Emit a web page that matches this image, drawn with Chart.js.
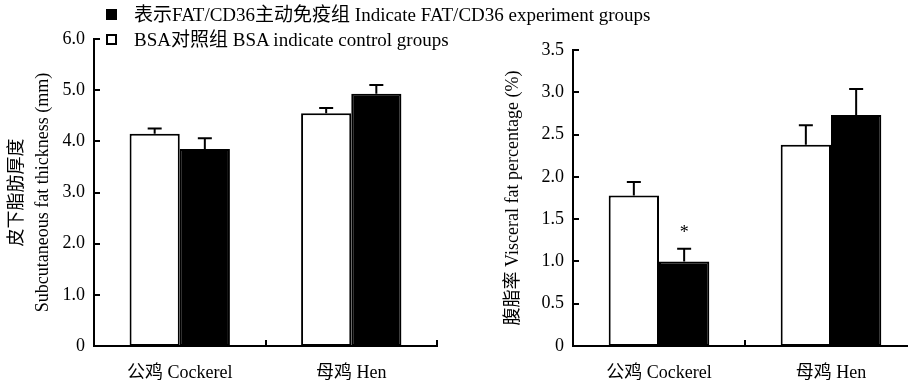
<!DOCTYPE html>
<html>
<head>
<meta charset="utf-8">
<script src="https://cdn.jsdelivr.net/npm/chart.js@4.4.0/dist/chart.umd.min.js"></script>
<style>
body { margin: 0; background: #fff; overflow: hidden; width: 908px; height: 385px; position: relative; font-family: "Liberation Serif", "Noto Sans CJK SC", serif; }
#left { position: absolute; left: 0; top: 0; }
#right { position: absolute; left: 460px; top: 0; }
.leg { position: absolute; left: 106px; font-size: 19px; line-height: 20px; white-space: nowrap; color: #000; }
.leg span.box { display: inline-block; width: 11px; height: 11px; box-sizing: border-box; border: 2px solid #000; margin-right: 17px; vertical-align: 1px; }
</style>
</head>
<body>
<canvas id="left" width="460" height="385"></canvas>
<canvas id="right" width="470" height="385"></canvas>
<div class="leg" style="top:5px"><span class="box" style="background:#000"></span>表示FAT/CD36主动免疫组 Indicate FAT/CD36 experiment groups</div>
<div class="leg" style="top:30px"><span class="box" style="background:#fff"></span>BSA对照组 BSA indicate control groups</div>
<script>
// categories and series
var groups = ['公鸡 Cockerel', '母鸡 Hen'];
var seriesNames = ['BSA对照组 BSA indicate control groups', '表示FAT/CD36主动免疫组 Indicate FAT/CD36 experiment groups'];

// subcutaneous fat thickness (mm)
var subBSA = [4.15, 4.55];
var subBSAerr = [0.10, 0.10];
var subFAT = [3.85, 4.93];
var subFATerr = [0.21, 0.17];
var subTicks = ['0', '1.0', '2.0', '3.0', '4.0', '5.0', '6.0'];

// visceral fat percentage (%)
var visBSA = [1.78, 2.38];
var visBSAerr = [0.16, 0.23];
var visFAT = [1.00, 2.73];
var visFATerr = [0.15, 0.31];
var visFATmarks = ['*', ''];
var visTicks = ['0', '0.5', '1.0', '1.5', '2.0', '2.5', '3.0', '3.5'];

var FONT = '"Liberation Serif", "Noto Sans CJK SC", serif';

// error bars (upward only) + significance marks
var errorBars = {
    id: 'errorBars',
    afterDatasetsDraw: function (chart) {
        var ctx = chart.ctx;
        var ys = chart.scales.y;
        ctx.save();
        ctx.strokeStyle = '#000';
        ctx.lineWidth = 2;
        chart.data.datasets.forEach(function (ds, d) {
            var meta = chart.getDatasetMeta(d);
            meta.data.forEach(function (bar, i) {
                var yTop = ys.getPixelForValue(ds.data[i] + ds.errors[i]);
                ctx.beginPath();
                ctx.moveTo(bar.x, bar.y);
                ctx.lineTo(bar.x, yTop);
                ctx.moveTo(bar.x - 7, yTop);
                ctx.lineTo(bar.x + 7, yTop);
                ctx.stroke();
                if (ds.marks && ds.marks[i]) {
                    ctx.fillStyle = '#000';
                    ctx.font = '18px ' + FONT;
                    ctx.textAlign = 'center';
                    ctx.textBaseline = 'middle';
                    ctx.fillText(ds.marks[i], bar.x, yTop - 15);
                }
            });
        });
        ctx.restore();
    }
};

// inward tick marks
var innerTicks = {
    id: 'innerTicks',
    afterDraw: function (chart) {
        var ctx = chart.ctx;
        var xs = chart.scales.x, ys = chart.scales.y;
        var area = chart.chartArea;
        ctx.save();
        ctx.strokeStyle = '#000';
        ctx.lineWidth = 2;
        ctx.beginPath();
        for (var i = 1; i < ys.ticks.length; i++) {
            var y = Math.round(ys.getPixelForTick(i));
            ctx.moveTo(area.left, y);
            ctx.lineTo(area.left + 6, y);
        }
        for (var j = 0; j < groups.length; j++) {
            var x = Math.round(xs.getPixelForValue(j + 0.5));
            ctx.moveTo(x, area.bottom);
            ctx.lineTo(x, area.bottom - 6);
        }
        ctx.stroke();
        ctx.restore();
    }
};

function makeChart(id, bsa, bsaErr, fat, fatErr, fatMarks, max, step, tickLabels, title, yWidth, titlePad, pad) {
    var ctx = document.getElementById(id);
    return new Chart(ctx, {
        type: 'bar',
        data: {
            labels: groups,
            datasets: [{
                label: seriesNames[0],
                data: bsa,
                errors: bsaErr,
                backgroundColor: '#fff',
                borderColor: '#000',
                borderWidth: 2,
                borderSkipped: false
            }, {
                label: seriesNames[1],
                data: fat,
                errors: fatErr,
                marks: fatMarks,
                backgroundColor: '#000',
                borderColor: '#000',
                borderWidth: 2,
                borderSkipped: false
            }]
        },
        options: {
            responsive: false,
            animation: false,
            layout: { padding: pad },
            datasets: { bar: { categoryPercentage: 0.585, barPercentage: 1.0 } },
            plugins: { legend: { display: false }, tooltip: { enabled: false } },
            scales: {
                x: {
                    grid: { display: false, drawTicks: false },
                    border: { display: true, color: '#000', width: 2 },
                    ticks: { color: '#000', font: { family: FONT, size: 18 }, padding: 16, maxRotation: 0 },
                    afterFit: function (s) { s.height = 39; }
                },
                y: {
                    min: 0,
                    max: max,
                    grid: { display: false, drawTicks: false },
                    border: { display: true, color: '#000', width: 2 },
                    ticks: {
                        stepSize: step,
                        color: '#000',
                        font: { family: FONT, size: 18 },
                        padding: 9,
                        callback: function (v, i) { return tickLabels[i]; }
                    },
                    title: {
                        display: true,
                        text: title,
                        color: '#000',
                        font: { family: FONT, size: 18, lineHeight: 1.4 },
                        padding: { top: titlePad, bottom: 0 }
                    },
                    afterFit: function (s) { s.width = yWidth; }
                }
            }
        },
        plugins: [errorBars, innerTicks]
    });
}

makeChart('left', subBSA, subBSAerr, subFAT, subFATerr, null, 6, 1, subTicks,
    ['皮下脂肪厚度', 'Subcutaneous fat thickness (mm)'], 94, 5, { top: 39, right: 23, left: 0, bottom: 0 });
makeChart('right', visBSA, visBSAerr, visFAT, visFATerr, visFATmarks, 3.5, 0.5, visTicks,
    '腹脂率 Visceral fat percentage (%)', 113, 41, { top: 50, right: 13, left: 0, bottom: 0 });
</script>
</body>
</html>
